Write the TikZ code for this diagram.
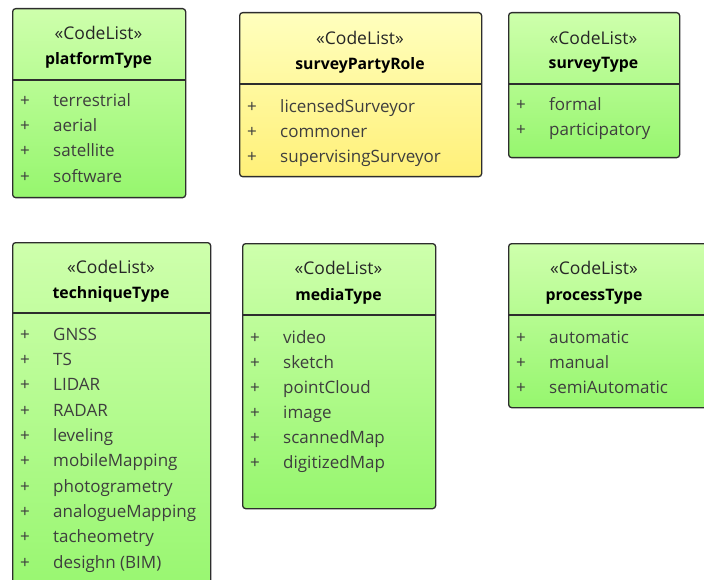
\documentclass[tikz,border=0pt]{standalone}
\usepackage{fontspec}
\setmainfont{Open Sans}
\definecolor{gtop}{RGB}{206,255,172}
\definecolor{gbot}{RGB}{150,246,110}
\definecolor{ytop}{RGB}{255,255,190}
\definecolor{ybot}{RGB}{255,240,120}
\definecolor{edge}{RGB}{45,45,45}
\definecolor{attrcol}{RGB}{62,62,62}
\tikzset{
  umlbox/.style={draw=edge, line width=1.3pt, rounded corners=3pt, inner sep=0pt, anchor=north west},
  greenbox/.style={umlbox, top color=gtop, bottom color=gbot},
  yellowbox/.style={umlbox, top color=ytop, bottom color=ybot},
  divline/.style={draw=edge, line width=1.3pt},
  stereo/.style={inner sep=0pt, anchor=mid, yshift=-3.5pt, text=black!85, font=\fontsize{17.5}{20}\selectfont},
  clsname/.style={inner sep=0pt, anchor=mid, yshift=-3.5pt, text=black, font=\fontsize{15.8}{19}\selectfont\bfseries},
  plus/.style={inner sep=0pt, anchor=mid, yshift=-3.5pt, text=attrcol, font=\fontsize{17}{20}\selectfont},
  attrtext/.style={inner sep=0pt, anchor=mid west, yshift=-3.5pt, text=attrcol, font=\fontsize{17}{20}\selectfont},
}
% #1 box name, #2 left x, #3 y, #4 text
\newcommand\attrline[4]{%
  \node[plus] (#1p) at (#2+13,#3) {+};
  \node[attrtext] (#1t) at (#2+41,#3) {#4};}
\begin{document}
\begin{tikzpicture}[x=1pt,y=-1pt]
\useasboundingbox (0,0) rectangle (704,580);
\clip (0,0) rectangle (704,580);

% platformType
\node[greenbox, minimum width=173pt, minimum height=189pt] (plat) at (12,8) {};
\draw[divline] (12,80) -- (185,80);
\node[stereo] (platS) at (98.5,33) {«CodeList»};
\node[clsname] (platN) at (98.5,58) {platformType};
\attrline{platA}{12}{100}{terrestrial}
\attrline{platB}{12}{125.3}{aerial}
\attrline{platC}{12}{150.6}{satellite}
\attrline{platD}{12}{176}{software}

% surveyPartyRole
\node[yellowbox, minimum width=242pt, minimum height=164pt] (role) at (239,12) {};
\draw[divline] (239,84) -- (481,84);
\node[stereo] (roleS) at (360,38) {«CodeList»};
\node[clsname] (roleN) at (360,63) {surveyPartyRole};
\attrline{roleA}{239}{106}{licensedSurveyor}
\attrline{roleB}{239}{131}{commoner}
\attrline{roleC}{239}{156}{supervisingSurveyor}

% surveyType
\node[greenbox, minimum width=171pt, minimum height=145pt] (stype) at (508,12) {};
\draw[divline] (508,84) -- (679,84);
\node[stereo] (stypeS) at (593.5,38) {«CodeList»};
\node[clsname] (stypeN) at (593.5,62) {surveyType};
\attrline{stypeA}{508}{104}{formal}
\attrline{stypeB}{508}{129}{participatory}

% techniqueType
\node[greenbox, minimum width=198pt, minimum height=360pt] (tech) at (12,242) {};
\draw[divline] (12,313) -- (210,313);
\node[stereo] (techS) at (111,267) {«CodeList»};
\node[clsname] (techN) at (111,292) {techniqueType};
\attrline{techA}{12}{334}{GNSS}
\attrline{techB}{12}{359.3}{TS}
\attrline{techC}{12}{384.6}{LIDAR}
\attrline{techD}{12}{410}{RADAR}
\attrline{techE}{12}{435.3}{leveling}
\attrline{techF}{12}{460.6}{mobileMapping}
\attrline{techG}{12}{486}{photogrametry}
\attrline{techH}{12}{511.3}{analogueMapping}
\attrline{techI}{12}{536.6}{tacheometry}
\attrline{techJ}{12}{562}{desighn (BIM)}

% mediaType
\node[greenbox, minimum width=193pt, minimum height=265pt] (media) at (242,243) {};
\draw[divline] (242,315) -- (435,315);
\node[stereo] (mediaS) at (338.5,268) {«CodeList»};
\node[clsname] (mediaN) at (338.5,294) {mediaType};
\attrline{mediaA}{242}{337}{video}
\attrline{mediaB}{242}{362}{sketch}
\attrline{mediaC}{242}{387}{pointCloud}
\attrline{mediaD}{242}{412}{image}
\attrline{mediaE}{242}{437}{scannedMap}
\attrline{mediaF}{242}{462}{digitizedMap}

% processType
\node[greenbox, minimum width=208pt, minimum height=164pt] (proc) at (508,243) {};
\draw[divline] (508,315) -- (716,315);
\node[stereo] (procS) at (594,268) {«CodeList»};
\node[clsname] (procN) at (594,294) {processType};
\attrline{procA}{508}{337}{automatic}
\attrline{procB}{508}{362}{manual}
\attrline{procC}{508}{387}{semiAutomatic}
\end{tikzpicture}
\end{document}
